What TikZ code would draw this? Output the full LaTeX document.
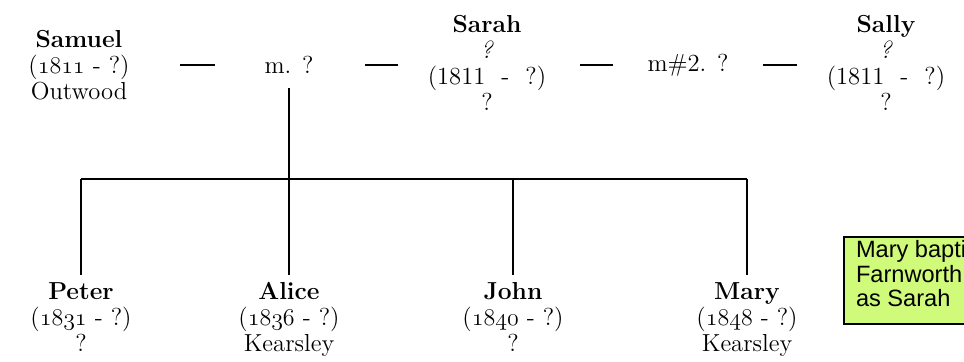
\documentclass[tikz,border=0pt]{standalone}
\usepackage{fontspec}
\newfontfamily\notefont{Liberation Sans}
\definecolor{notegreen}{RGB}{208,250,122}
\newcommand\osf[1]{{\usefont{OML}{cmm}{m}{it}#1}}
\tikzset{
  person/.style={align=center, anchor=north, inner sep=1pt, font=\fontsize{12.3}{13}\selectfont},
  marr/.style={inner sep=1pt, font=\fontsize{12.3}{13}\selectfont},
  tree/.style={line width=1pt},
  sepline/.style={line width=1.1pt},
  note/.style={draw, line width=1pt, fill=notegreen, align=left, anchor=north west,
    inner xsep=6pt, inner ysep=1.8pt, font=\notefont\fontsize{11.8}{12.3}\selectfont}
}
\begin{document}
\begin{tikzpicture}[x=0.5pt,y=-0.5pt]
  \useasboundingbox (0,0) rectangle (964,362);
  \clip (0,0) rectangle (964,362);

  % parents
  \node[person] (samuel) at (79,28) {\textbf{Samuel}\\(\osf{1811} - ?)\\Outwood};
  \node[marr] (m1) at (289,65) {m. ?};
  \node[person] (sarah) at (487,13) {\textbf{Sarah}\\\textit{?}\\(1811~ -~ ?)\\?};
  \node[marr] (m2) at (688,65) {m\#2. ?};
  \node[person] (sally) at (886,13) {\textbf{Sally}\\\textit{?}\\(1811~ -~ ?)\\?};

  \draw[sepline, shorten <=50.5pt, shorten >=37pt] (m1.center -| samuel.center) -- (m1.center);
  \draw[sepline, shorten <=38pt, shorten >=44.5pt] (m1.center) -- (m1.center -| sarah.center);
  \draw[sepline, shorten <=46.5pt, shorten >=37.5pt] (m2.center -| sarah.center) -- (m2.center);
  \draw[sepline, shorten <=37.5pt, shorten >=44.5pt] (m2.center) -- (m2.center -| sally.center);

  % children
  \node[person] (peter) at (81,280) {\textbf{Peter}\\(\osf{1831} - ?)\\?};
  \node[person] (alice) at (289,280) {\textbf{Alice}\\(\osf{1836} - ?)\\Kearsley};
  \node[person] (john) at (513,280) {\textbf{John}\\(\osf{1840} - ?)\\?};
  \node[person] (mary) at (747,280) {\textbf{Mary}\\(\osf{1848} - ?)\\Kearsley};

  \coordinate (fam) at (289,179);
  \draw[tree, shorten <=6pt] (m1.south) -- (fam);
  \draw[tree, shorten >=2.5pt] (peter.north |- fam) -- (peter.north);
  \draw[tree, shorten >=2.5pt] (alice.north |- fam) -- (alice.north);
  \draw[tree, shorten >=2.5pt] (john.north |- fam) -- (john.north);
  \draw[tree, shorten >=2.5pt] (mary.north |- fam) -- (mary.north);
  \draw[tree] (peter.north |- fam) -- (mary.north |- fam);

  % note
  \node[note] (bapt) at (843,236) {Mary bapti\\Farnworth\\as Sarah\rule[-7pt]{0pt}{7pt}};
\end{tikzpicture}
\end{document}
